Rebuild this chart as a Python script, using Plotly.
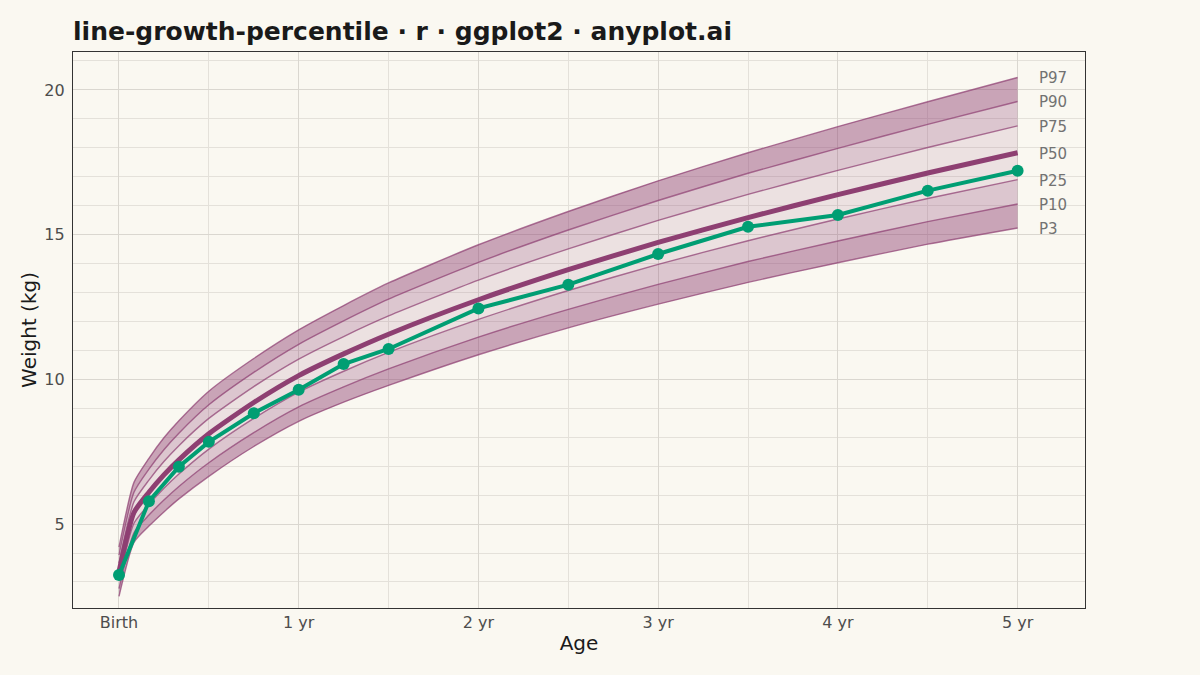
import plotly.graph_objects as go

# Age in months for reference percentile curves
months = [0, 1, 2, 3, 4, 6, 9, 12, 15, 18, 24, 30, 36, 42, 48, 54, 60]

p3 = [2.50, 4.37, 4.93, 5.42, 5.87, 6.65, 7.68, 8.55, 9.21, 9.79, 10.85, 11.78, 12.60, 13.35, 14.03, 14.67, 15.23]
p10 = [2.77, 4.70, 5.31, 5.83, 6.30, 7.12, 8.16, 9.05, 9.74, 10.36, 11.46, 12.42, 13.28, 14.07, 14.78, 15.45, 16.06]
p25 = [3.05, 5.03, 5.68, 6.24, 6.73, 7.59, 8.65, 9.56, 10.28, 10.93, 12.07, 13.07, 13.97, 14.79, 15.54, 16.25, 16.90]
p50 = [3.35, 5.40, 6.10, 6.70, 7.22, 8.12, 9.20, 10.13, 10.88, 11.56, 12.75, 13.79, 14.73, 15.59, 16.38, 17.13, 17.83]
p75 = [3.65, 5.77, 6.52, 7.16, 7.71, 8.65, 9.75, 10.70, 11.48, 12.19, 13.43, 14.51, 15.49, 16.39, 17.22, 18.01, 18.76]
p90 = [3.93, 6.10, 6.90, 7.57, 8.14, 9.12, 10.24, 11.21, 12.02, 12.77, 14.04, 15.16, 16.18, 17.12, 17.98, 18.81, 19.60]
p97 = [4.20, 6.44, 7.27, 7.98, 8.57, 9.59, 10.72, 11.71, 12.55, 13.33, 14.65, 15.80, 16.86, 17.83, 18.73, 19.59, 20.43]

percentile_labels = ["P3", "P10", "P25", "P50", "P75", "P90", "P97"]

# Child measurements
child_months = [0, 2, 4, 6, 9, 12, 15, 18, 24, 30, 36, 42, 48, 54, 60]
child_weight = [3.24, 5.79, 6.98, 7.84, 8.83, 9.64, 10.53, 11.05, 12.45, 13.27, 14.33, 15.27, 15.68, 16.52, 17.21]

x_tickvals = [0, 12, 24, 36, 48, 60]
x_ticktext = ["Birth", "1 yr", "2 yr", "3 yr", "4 yr", "5 yr"]
x_minorvals = [6, 18, 30, 42, 54]
y_tickvals = [5, 10, 15, 20]

BG = "#FAF8F1"
OUTER = "rgba(142,63,114,0.45)"
MID = "rgba(142,63,114,0.27)"
INNER = "rgba(142,63,114,0.12)"
THIN = "rgba(142,63,114,0.72)"
MEDIAN = "#8E3F72"
GREEN = "#009E73"
FONT = "DejaVu Sans"
SHAPE = dict(shape="spline", smoothing=0.6)

fig = go.Figure()

bands = [
    (p3, None),
    (p10, OUTER),
    (p25, MID),
    (p75, INNER),
    (p90, MID),
    (p97, OUTER),
]
for vals, col in bands:
    fig.add_trace(go.Scatter(
        x=months, y=vals, mode="lines",
        line=dict(width=0, color="rgba(0,0,0,0)", **SHAPE),
        fill=None if col is None else "tonexty",
        fillcolor=col,
        hoverinfo="skip", showlegend=False,
    ))

curves = [p3, p10, p25, p75, p90, p97]
for vals in curves:
    fig.add_trace(go.Scatter(
        x=months, y=vals, mode="lines",
        line=dict(width=1.4, color=THIN, **SHAPE),
        hoverinfo="skip", showlegend=False,
    ))

fig.add_trace(go.Scatter(
    x=months, y=p50, mode="lines",
    line=dict(width=5, color=MEDIAN, **SHAPE),
    hoverinfo="skip", showlegend=False,
))

fig.add_trace(go.Scatter(
    x=child_months, y=child_weight, mode="lines+markers",
    line=dict(width=4, color=GREEN),
    marker=dict(size=12, color=GREEN),
    showlegend=False,
))

all_curves = [p3, p10, p25, p50, p75, p90, p97]
for lab, vals in zip(percentile_labels, all_curves):
    fig.add_annotation(
        x=months[-1], y=vals[-1], text=lab, showarrow=False,
        xanchor="left", yanchor="middle", xshift=19, yshift=-1,
        font=dict(family=FONT, size=15, color="#727272"),
    )

fig.update_layout(
    width=1200, height=675,
    paper_bgcolor=BG, plot_bgcolor=BG,
    margin=dict(l=73, r=115, t=52, b=67),
    font=dict(family=FONT, color="#333333"),
    title=dict(
        text="<b>line-growth-percentile · r · ggplot2 · anyplot.ai</b>",
        x=73 / 1200, xanchor="left", y=1 - 31 / 675, yanchor="middle",
        font=dict(family=FONT, size=25, color="#1A1A1A"),
    ),
    showlegend=False,
)

fig.update_xaxes(
    range=[-3.07, 64.5],
    tickmode="array", tickvals=x_tickvals, ticktext=x_ticktext,
    tickfont=dict(family=FONT, size=16, color="#4D4D4D"),
    showgrid=True, gridcolor="#DAD7D0", gridwidth=1.2,
    minor=dict(tickmode="array", tickvals=x_minorvals, showgrid=True,
               gridcolor="#E4E1DA", gridwidth=0.9),
    zeroline=False, showline=True, mirror=True, linecolor="#333333", linewidth=1.3,
    ticks="", ticklen=0,
    title=dict(text="Age", font=dict(family=FONT, size=20, color="#1A1A1A"), standoff=4),
)

fig.update_yaxes(
    range=[2.1, 21.31],
    tickmode="array", tickvals=y_tickvals,
    tickfont=dict(family=FONT, size=16, color="#4D4D4D"),
    ticklabelstandoff=4,
    showgrid=True, gridcolor="#DAD7D0", gridwidth=1.2,
    minor=dict(dtick=1, tick0=0, showgrid=True, gridcolor="#E4E1DA", gridwidth=0.9),
    zeroline=False, showline=True, mirror=True, linecolor="#333333", linewidth=1.3,
    ticks="", ticklen=0,
    title=dict(text="Weight (kg)", font=dict(family=FONT, size=20, color="#1A1A1A"), standoff=2),
)

fig.write_html(
    "out.html",
    config={"displayModeBar": False},
    post_script="document.body.style.margin='0';document.body.style.padding='0';"
                "document.body.style.background='#FAF8F1';",
)
